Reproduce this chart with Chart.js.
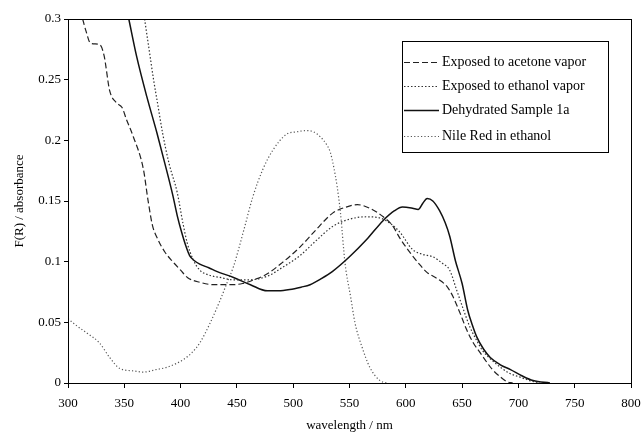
<!DOCTYPE html>
<html>
<head>
<meta charset="utf-8">
<script src="https://cdn.jsdelivr.net/npm/chart.js@4/dist/chart.umd.min.js"></script>
<style>
html,body{margin:0;padding:0;background:#fff;}
#wrap{width:642px;height:433px;position:relative;}
</style>
</head>
<body>
<div id="wrap"><canvas id="c" width="642" height="433"></canvas></div>
<script>
const xTicks = [300, 350, 400, 450, 500, 550, 600, 650, 700, 750, 800];
const yTicks = [0, 0.05, 0.1, 0.15, 0.2, 0.25, 0.3];
const yTickLabels = ["0", "0.05", "0.1", "0.15", "0.2", "0.25", "0.3"];

const seriesLabels = ["Exposed to acetone vapor", "Exposed to ethanol vapor", "Dehydrated Sample 1a", "Nile Red in ethanol"];

const acetoneX = [313,316,320,328,332,337,343,348,352,358,367,371,375,380,386,393,400,406,417,430,445,455,465,477,490,506,520,535,547,557,568,580,588,595,605,612,619,628,637,642,648,654,660,666,672,677,684,690,695];
const acetoneY = [0.300,0.290,0.280,0.279,0.270,0.241,0.231,0.227,0.217,0.203,0.176,0.151,0.130,0.118,0.108,0.100,0.093,0.087,0.083,0.081,0.081,0.082,0.085,0.090,0.099,0.112,0.126,0.140,0.145,0.147,0.144,0.137,0.130,0.119,0.106,0.098,0.091,0.086,0.079,0.071,0.058,0.044,0.033,0.025,0.017,0.011,0.005,0.001,0];

const ethanolX = [368,372,376,380,384,390,397,402,406,411,417,425,435,447,460,477,490,506,520,535,550,565,577,587,595,606,615,624,632,639,645,651,657,663,668,675,684,692,701,710,719];
const ethanolY = [0.300,0.275,0.250,0.228,0.206,0.180,0.157,0.132,0.115,0.102,0.093,0.089,0.087,0.085,0.085,0.088,0.095,0.105,0.117,0.129,0.135,0.137,0.136,0.131,0.124,0.110,0.106,0.104,0.099,0.093,0.077,0.061,0.046,0.035,0.027,0.020,0.013,0.008,0.005,0.002,0];

const dehydX = [354,361,370,379,386,393,397,401,405,408,412,417,425,432,447,462,477,487,497,507,515,525,535,550,565,580,590,597,606,611,615,619,624,630,635,639,644,650,655,659,663,669,675,684,693,703,713,728];
const dehydY = [0.300,0.269,0.236,0.206,0.181,0.155,0.138,0.124,0.112,0.105,0.101,0.098,0.095,0.092,0.087,0.081,0.076,0.076,0.077,0.079,0.081,0.086,0.092,0.104,0.118,0.134,0.142,0.145,0.144,0.143,0.148,0.152,0.150,0.142,0.132,0.121,0.101,0.082,0.060,0.048,0.038,0.028,0.021,0.015,0.011,0.006,0.002,0];

const nileX = [300,308,317,328,337,346,358,367,378,388,396,402,410,417,426,435,441,447,452,457,464,473,482,494,503,512,518,524,530,533,536,539,542,546,551,555,561,568,577,583];
const nileY = [0.053,0.047,0.041,0.033,0.021,0.012,0.010,0.009,0.011,0.013,0.016,0.019,0.025,0.033,0.049,0.068,0.082,0.096,0.112,0.129,0.153,0.176,0.192,0.205,0.207,0.208,0.207,0.203,0.196,0.190,0.178,0.162,0.140,0.099,0.071,0.049,0.030,0.013,0.002,0];

function pts(xs, ys){ return xs.map((x,i)=>({x:x, y:ys[i]})); }

const FONT = "'Liberation Serif', 'Times New Roman', serif";

const datasets = [
  {label: seriesLabels[0], data: pts(acetoneX, acetoneY), borderColor:'#222', borderWidth:1.2, borderDash:[6,3]},
  {label: seriesLabels[1], data: pts(ethanolX, ethanolY), borderColor:'#333', borderWidth:1.2, borderDash:[1.5,2]},
  {label: seriesLabels[2], data: pts(dehydX, dehydY), borderColor:'#111', borderWidth:1.5, borderDash:[]},
  {label: seriesLabels[3], data: pts(nileX, nileY), borderColor:'#555', borderWidth:1.2, borderDash:[1.2,2.2]}
].map(d => Object.assign(d, {showLine:true, pointRadius:0, fill:false, cubicInterpolationMode:'monotone'}));

const framePlugin = {
  id:'frame',
  afterDraw(chart){
    const {ctx, chartArea:a} = chart;
    ctx.save();
    ctx.strokeStyle = '#000';
    ctx.lineWidth = 1;
    ctx.strokeRect(Math.round(a.left)+0.5, Math.round(a.top)+0.5, Math.round(a.right-a.left), Math.round(a.bottom-a.top));
    // legend box
    const bx = 402, by = 41, bw = 206, bh = 111;
    ctx.fillStyle = '#fff';
    ctx.fillRect(bx, by, bw, bh);
    ctx.strokeStyle = '#000';
    ctx.strokeRect(bx+0.5, by+0.5, bw, bh);
    const rows = [62, 86, 110, 136];
    ctx.font = '14px ' + FONT;
    ctx.textBaseline = 'middle';
    chart.data.datasets.forEach((ds, i) => {
      ctx.beginPath();
      ctx.setLineDash(ds.borderDash || []);
      ctx.strokeStyle = ds.borderColor;
      ctx.lineWidth = ds.borderWidth;
      ctx.moveTo(404, rows[i]+0.5);
      ctx.lineTo(439, rows[i]+0.5);
      ctx.stroke();
      ctx.setLineDash([]);
      ctx.fillStyle = '#000';
      ctx.fillText(ds.label, 442, rows[i]);
    });
    ctx.restore();
  }
};

new Chart(document.getElementById('c'), {
  type:'scatter',
  data:{datasets},
  plugins:[framePlugin],
  options:{
    responsive:false,
    animation:false,
    layout:{padding:{left:0, top:19, right:11, bottom:0}},
    plugins:{legend:{display:false}, tooltip:{enabled:false}},
    scales:{
      x:{
        type:'linear', min:300, max:800,
        afterBuildTicks(s){ s.ticks = xTicks.map(v=>({value:v})); },
        afterFit(s){ s.height = 50; s.paddingLeft = 0; s.paddingRight = 0; },
        ticks:{color:'#000', font:{family:FONT, size:13}, padding:8, maxRotation:0},
        grid:{display:true, drawOnChartArea:false, drawTicks:true, tickLength:5, color:'#000'},
        border:{color:'#000', width:1},
        title:{display:true, text:'wavelength / nm', color:'#000', font:{family:FONT, size:13}, padding:{top:2, bottom:0}}
      },
      y:{
        min:0, max:0.3,
        afterBuildTicks(s){ s.ticks = yTicks.map(v=>({value:v})); },
        afterFit(s){ s.width = 68; },
        ticks:{color:'#000', font:{family:FONT, size:13}, padding:3,
          callback(v){ const i = yTicks.findIndex(t => Math.abs(t - v) < 1e-9); return i >= 0 ? yTickLabels[i] : ''; }},
        grid:{display:true, drawOnChartArea:false, drawTicks:true, tickLength:4, color:'#000'},
        border:{color:'#000', width:1},
        title:{display:true, text:'F(R) / absorbance', color:'#000', font:{family:FONT, size:13}, padding:{top:12, bottom:0}}
      }
    }
  }
});
</script>
</body>
</html>
